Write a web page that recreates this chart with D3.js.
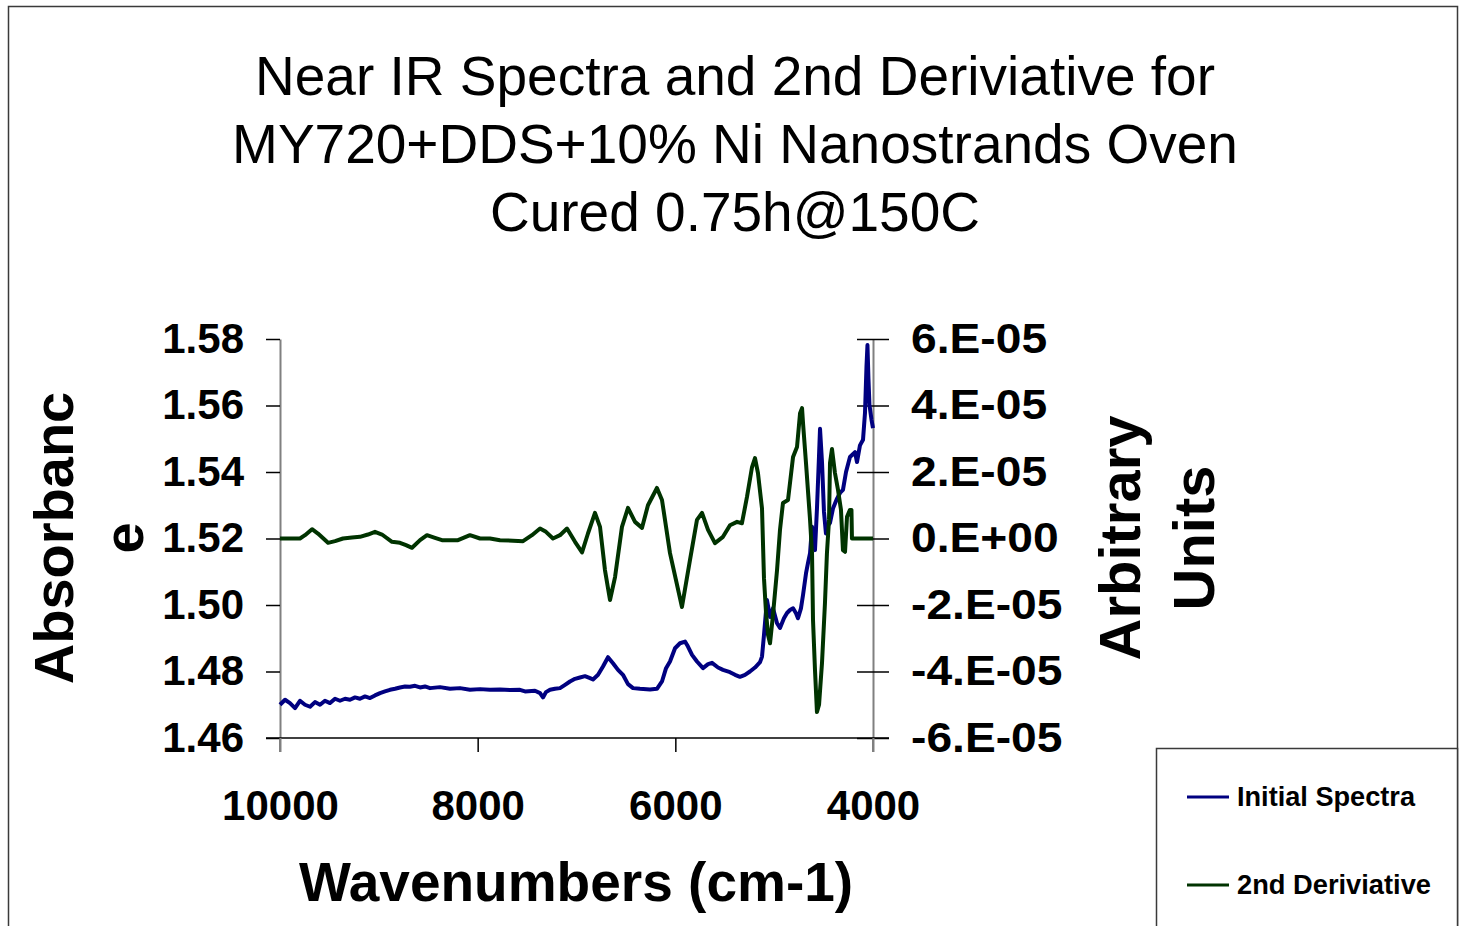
<!DOCTYPE html>
<html>
<head>
<meta charset="utf-8">
<script src="https://cdn.jsdelivr.net/npm/d3@7"></script>
<style>
  html, body { margin: 0; padding: 0; background: #fff; overflow: hidden; }
  svg { display: block; font-family: "Liberation Sans", Arial, sans-serif; }
</style>
</head>
<body>
<script>
// ---------------- DATA ----------------
const titleLines = ["Near IR Spectra and 2nd Deriviative for", "MY720+DDS+10% Ni Nanostrands Oven", "Cured 0.75h@150C"];
const xTitle = "Wavenumbers (cm-1)";
const yLeftTitle = ["Absorbanc", "e"];
const yRightTitle = ["Arbitrary", "Units"];
const seriesNames = ["Initial Spectra", "2nd Deriviative"];

const xTicks = [10000, 8000, 6000, 4000];
const xTickLabels = ["10000", "8000", "6000", "4000"];
const leftTicks = [1.46, 1.48, 1.50, 1.52, 1.54, 1.56, 1.58];
const leftTickLabels = ["1.46", "1.48", "1.50", "1.52", "1.54", "1.56", "1.58"];
const rightTicks = [-6e-5, -4e-5, -2e-5, 0, 2e-5, 4e-5, 6e-5];
const rightTickLabels = ["-6.E-05", "-4.E-05", "-2.E-05", "0.E+00", "2.E-05", "4.E-05", "6.E-05"];

// Initial spectra: wavenumber (cm-1) and absorbance
const spectraWn = [10000,9949,9899,9848,9798,9747,9696,9646,9595,9545,9494,9443,9393,9342,9292,9241,9191,9140,9089,9039,
  8988,8938,8887,8836,8786,8735,8685,8634,8583,8533,8482,8381,8280,8179,8078,7976,7875,7774,7673,7572,
  7521,7420,7369,7339,7309,7268,7218,7167,7116,7066,7015,6965,6914,6863,6833,6782,6732,6681,6631,6580,
  6530,6479,6428,6358,6256,6186,6135,6094,6054,6003,5953,5902,5872,5831,5781,5720,5669,5629,5568,5518,
  5447,5396,5346,5295,5245,5194,5143,5123,5103,5073,5042,5012,4971,4941,4901,4870,4840,4809,4779,4759,
  4729,4708,4678,4658,4637,4617,4597,4587,4567,4546,4536,4516,4496,4476,4455,4435,4405,4364,4334,4304,
  4273,4233,4182,4162,4132,4101,4081,4066,4056,4046,4036,4015,4000];
const spectraAbs = [1.4700,1.4715,1.4705,1.4690,1.4712,1.4700,1.4694,1.4708,1.4700,1.4712,1.4705,1.4718,1.4712,1.4718,1.4715,1.4722,1.4718,1.4725,1.4720,1.4728,
  1.4735,1.4740,1.4745,1.4748,1.4752,1.4755,1.4754,1.4757,1.4752,1.4755,1.4750,1.4753,1.4748,1.4750,1.4745,1.4747,1.4745,1.4746,1.4744,1.4745,
  1.4740,1.4742,1.4735,1.4722,1.4738,1.4745,1.4748,1.4750,1.4760,1.4770,1.4778,1.4782,1.4786,1.4780,1.4776,1.4790,1.4815,1.4843,1.4825,1.4805,
  1.4790,1.4762,1.4750,1.4748,1.4746,1.4748,1.4770,1.4810,1.4830,1.4870,1.4885,1.4890,1.4875,1.4850,1.4830,1.4810,1.4822,1.4826,1.4812,1.4805,
  1.4798,1.4790,1.4784,1.4790,1.4800,1.4812,1.4828,1.4845,1.4910,1.5015,1.4964,1.4990,1.4945,1.4931,1.4960,1.4976,1.4985,1.4990,1.4975,1.4960,
  1.4990,1.5030,1.5095,1.5126,1.5156,1.5235,1.5190,1.5165,1.5290,1.5450,1.5530,1.5430,1.5280,1.5215,1.5240,1.5247,1.5290,1.5320,1.5337,1.5346,
  1.5400,1.5445,1.5460,1.5430,1.5480,1.5497,1.5578,1.5716,1.5782,1.5680,1.5602,1.5557,1.5532];

// 2nd derivative: wavenumber (cm-1) and value in units of 1e-5
const derivWn = [10000,9798,9747,9676,9616,9514,9443,9363,9272,9191,9110,9039,8968,8867,8786,8725,8664,8583,8513,8432,
  8361,8199,8078,7976,7875,7774,7541,7451,7369,7309,7238,7167,7096,7015,6944,6884,6813,6762,6712,6661,
  6610,6540,6479,6408,6337,6277,6186,6135,6054,5933,5852,5781,5730,5669,5599,5518,5447,5376,5326,5275,
  5224,5194,5164,5123,5103,5083,5062,5042,5012,4971,4941,4911,4860,4809,4769,4738,4718,4708,4678,4637,
  4617,4607,4587,4567,4546,4516,4486,4466,4445,4435,4415,4385,4354,4324,4304,4283,4263,4233,4218,4213,4000];
const derivE5 = [0,0,0.1,0.28,0.15,-0.13,-0.08,0,0.03,0.05,0.12,0.2,0.12,-0.1,-0.13,-0.2,-0.28,-0.05,0.1,0.02,
  -0.05,-0.05,0.1,0,0,-0.05,-0.08,0.1,0.3,0.2,0,0.1,0.3,-0.1,-0.42,0.15,0.77,0.35,-0.95,-1.85,
  -1.16,0.35,0.92,0.5,0.32,1.0,1.52,1.16,-0.44,-2.06,-0.65,0.56,0.77,0.26,-0.14,0.05,0.4,0.5,0.46,1.25,
  2.15,2.42,1.97,0.9,-1.2,-2.2,-2.9,-3.15,-2.3,-0.95,0.26,1.07,1.16,2.45,2.75,3.77,3.92,3.47,2.27,0.56,
  -0.44,-2.45,-3.95,-5.22,-5.0,-3.74,-1.94,-0.44,0.56,2.27,2.69,1.97,1.46,0.86,-0.35,-0.4,0.65,0.86,0.86,0,0];

// ---------------- CHART ----------------
const W = 1461, H = 926;
const FONT = '"Liberation Sans", Arial, sans-serif';
const svg = d3.select("body").append("svg").attr("width", W).attr("height", H);

svg.append("rect").attr("width", W).attr("height", H).attr("fill", "#fff");
// outer chart border
svg.append("rect").attr("x", 8.5).attr("y", 6.5).attr("width", 1449).attr("height", 940)
  .attr("fill", "none").attr("stroke", "#3a3a3a").attr("stroke-width", 1.5);

const x = d3.scaleLinear().domain([10000, 4000]).range([280, 873]);
const yL = d3.scaleLinear().domain([1.46, 1.58]).range([738, 339]);
const yR = d3.scaleLinear().domain([-6e-5, 6e-5]).range([738, 339]);

// Title
const title = svg.append("g").attr("font-family", FONT).attr("font-size", 55).attr("fill", "#000");
titleLines.forEach((t, i) => {
  title.append("text").attr("x", 735).attr("y", 95 + i * 68).attr("text-anchor", "middle").text(t);
});

// Axes
const gL = svg.append("g").attr("transform", "translate(280,0)")
  .call(d3.axisLeft(yL).tickValues(leftTicks).tickFormat((d, i) => leftTickLabels[i]).tickSizeInner(14).tickSizeOuter(0).tickPadding(22));
const gR = svg.append("g").attr("transform", "translate(873,0)")
  .call(d3.axisRight(yR).tickValues(rightTicks).tickFormat((d, i) => rightTickLabels[i]).tickSizeInner(16).tickSizeOuter(0).tickPadding(22));
const gB = svg.append("g").attr("transform", "translate(0,738)")
  .call(d3.axisBottom(x).tickValues(xTicks).tickFormat((d, i) => xTickLabels[i]).tickSizeInner(14).tickSizeOuter(0).tickPadding(38));

[gL, gR, gB].forEach(g => {
  g.attr("font-family", FONT).attr("font-size", 42).attr("font-weight", "bold");
  g.selectAll(".tick text").attr("fill", "#000");
  g.selectAll(".tick line").attr("stroke", "#000").attr("stroke-width", 1.5);
});
gL.select(".domain").attr("stroke", "#808080").attr("stroke-width", 2);
gR.select(".domain").attr("stroke", "#808080").attr("stroke-width", 2);
gB.select(".domain").attr("stroke", "#000").attr("stroke-width", 1.5)
  .attr("d", "M266,0H889");
// right-axis ticks cross the axis
gR.selectAll(".tick line").attr("x1", -16);
// left & right axis lines extend down to tick length
gL.append("line").attr("x1", 0).attr("x2", 0).attr("y1", 738).attr("y2", 752).attr("stroke", "#808080").attr("stroke-width", 2);
gR.append("line").attr("x1", 0).attr("x2", 0).attr("y1", 738).attr("y2", 752).attr("stroke", "#808080").attr("stroke-width", 2);
gB.selectAll(".tick").filter(d => d === 10000 || d === 4000).select("line").attr("stroke", "#808080").attr("stroke-width", 2);
// right tick labels are wider in the reference
gR.selectAll(".tick text").each(function () {
  const w = this.getComputedTextLength();
  d3.select(this).attr("textLength", w * 1.1).attr("lengthAdjust", "spacingAndGlyphs");
});

// Axis titles
const axT = svg.append("g").attr("font-family", FONT).attr("font-weight", "bold").attr("fill", "#000");
axT.append("text").attr("x", 576).attr("y", 901).attr("text-anchor", "middle").attr("font-size", 55).text(xTitle);
[73, 143].forEach((bx, i) => {
  axT.append("text").attr("transform", `translate(${bx},538) rotate(-90)`).attr("text-anchor", "middle")
    .attr("font-size", 56).text(yLeftTitle[i]);
});
[1140, 1214].forEach((bx, i) => {
  axT.append("text").attr("transform", `translate(${bx},538) rotate(-90)`).attr("text-anchor", "middle")
    .attr("font-size", 58).text(yRightTitle[i]);
});

// Series
const spectra = spectraWn.map((w, i) => [w, spectraAbs[i]]);
const deriv = derivWn.map((w, i) => [w, derivE5[i] * 1e-5]);
const lineL = d3.line().x(d => x(d[0])).y(d => yL(d[1]));
const lineR = d3.line().x(d => x(d[0])).y(d => yR(d[1]));
const colors = ["#000080", "#003300"];

svg.append("path").datum(spectra).attr("d", lineL).attr("fill", "none")
  .attr("stroke", colors[0]).attr("stroke-width", 4).attr("stroke-linejoin", "round");
svg.append("path").datum(deriv).attr("d", lineR).attr("fill", "none")
  .attr("stroke", colors[1]).attr("stroke-width", 4).attr("stroke-linejoin", "round");

// Legend
const lg = svg.append("g");
lg.append("rect").attr("x", 1156.5).attr("y", 748.5).attr("width", 301).attr("height", 200)
  .attr("fill", "#fff").attr("stroke", "#3a3a3a").attr("stroke-width", 1.5);
const legW = [178, 194];
[797, 885].forEach((ly, i) => {
  lg.append("line").attr("x1", 1187).attr("x2", 1229).attr("y1", ly).attr("y2", ly)
    .attr("stroke", colors[i]).attr("stroke-width", 3);
  lg.append("text").attr("x", 1237).attr("y", ly + 9).attr("font-family", FONT).attr("font-weight", "bold")
    .attr("font-size", 27).attr("fill", "#000")
    .attr("textLength", legW[i]).attr("lengthAdjust", "spacingAndGlyphs").text(seriesNames[i]);
});
</script>
</body>
</html>
